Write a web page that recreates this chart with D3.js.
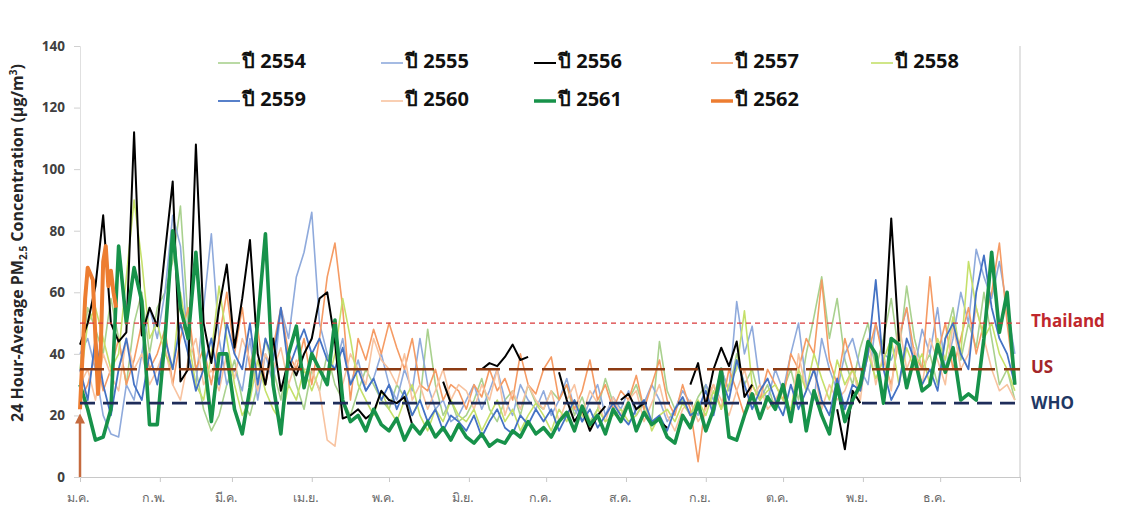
<!DOCTYPE html>
<html>
<head>
<meta charset="utf-8">
<script src="https://cdn.jsdelivr.net/npm/d3@7"></script>
<style>
  body { margin: 0; background: #fff; }
  svg { display: block; }
</style>
</head>
<body>
<svg id="chart" width="1132" height="511"></svg>
<script>
// ---- Data -------------------------------------------------------------
const monthLabels = ["ม.ค.", "ก.พ.", "มี.ค.", "เม.ย.", "พ.ค.", "มิ.ย.", "ก.ค.", "ส.ค.", "ก.ย.", "ต.ค.", "พ.ย.", "ธ.ค."];
const monthStartDays = [0, 31, 59, 90, 120, 151, 181, 212, 243, 273, 304, 334, 365];
const yTicks = [0, 20, 40, 60, 80, 100, 120, 140];

// readings every third day of the year (day 0, 3, 6, ... 363)
const sampleDays = d3.range(0, 365, 3);

const y2554 = [35, 55, 48, 40, 58, 45, 30, 50, 60, 40,
  55, 60, 70, 88, 50, 35, 22, 15, 20, 30,
  38, 25, 20, 30, 45, 35, 25, 40, 30, 22,
  35, 28, 40, 30, 25, 20, 28, 35, 30, 25,
  22, 30, 26, 20, 25, 48, 30, 20, 25, 18,
  20, 25, 32, 22, 18, 25, 28, 20, 30, 24,
  22, 28, 25, 30, 20, 26, 18, 22, 32, 24,
  20, 25, 30, 22, 18, 44, 28, 22, 25, 20,
  26, 30, 22, 35, 28, 40, 30, 35, 25, 30,
  22, 28, 35, 25, 40, 52, 65, 45, 58, 38,
  30, 42, 50, 35, 45, 58, 40, 62, 45, 35,
  40, 30, 45, 55, 38, 50, 42, 60, 45, 30,
  35, 25];

const y2555 = [40, 45, 35, 20, 14, 13, 30, 25, 40, 55,
  45, 60, 85, 75, 40, 30, 55, 79, 45, 30,
  35, 28, 45, 25, 40, 30, 55, 45, 65, 73,
  86, 50, 40, 35, 45, 30, 38, 28, 32, 40,
  30, 25, 35, 28, 45, 30, 22, 25, 18, 20,
  25, 30, 22, 28, 35, 25, 20, 30, 25, 22,
  28, 20, 25, 32, 22, 18, 25, 30, 20, 26,
  22, 28, 20, 24, 30, 25, 18, 22, 28, 24,
  20, 30, 25, 35, 28, 57, 40, 49, 30, 25,
  35, 28, 40, 50, 30, 25, 45, 35, 28, 40,
  45, 35, 30, 50, 40, 38, 45, 55, 35, 48,
  40, 55, 35, 45, 60, 50, 74, 65, 58, 70,
  55, 40];

// null marks days without a reading
const y2556 = [43, 50, 62, 85, 50, 44, 47, 112, 46, 55,
  49, 73, 96, 31, 35, 108, 50, 37, 55, 69,
  42, 58, 77, 40, 30, 45, 28, 38, 33, 40,
  45, 58, 60, 44, 19, 20, 22, 19, 21, 28,
  25, 24, 26, 17, null, null, null, 31, 24, null,
  null, null, 35, 37, 36, 39, 43, 38, 39, null,
  null, null, 34, 25, 18, 22, 15, 20, 23, null,
  25, 27, 22, 24, null, 18, 16, null, null, 30,
  37, 23, 35, 42, 36, 44, 26, 30, null, null,
  32, null, null, null, null, null, null, null, 22, 9,
  28, 24, null, null, 40, 84, 44, null, null, null,
  null, null, null, null, null, null, null, null, null, null,
  null, null];

const y2557 = [25, 30, 40, 28, 35, 45, 30, 38, 50, 35,
  40, 48, 30, 45, 55, 35, 42, 30, 45, 60,
  40, 55, 35, 48, 30, 42, 55, 40, 35, 45,
  30, 45, 65, 76, 55, 25, 45, 38, 48, 40,
  50, 42, 35, 45, 30, 28, 35, 25, 30, 28,
  22, 30, 26, 35, 28, 32, 25, 40, 30, 27,
  35, 39, 25, 30, 22, 28, 38, 25, 30, 22,
  28, 25, 33, 22, 30, 38, 25, 20, 30, 22,
  5, 25, 30, 22, 35, 28, 20, 30, 25, 35,
  30, 25, 40, 35, 45, 40, 64, 38, 30, 45,
  35, 28, 40, 50, 38, 30, 45, 55, 40, 35,
  65, 40, 50, 35, 45, 55, 40, 50, 60, 76,
  50, 30];

const y2558 = [30, 50, 55, 45, 35, 40, 65, 90, 70, 45,
  50, 40, 35, 60, 45, 30, 25, 40, 62, 45,
  30, 20, 25, 38, 28, 22, 18, 30, 25, 35,
  28, 35, 30, 40, 58, 45, 30, 25, 20, 28,
  22, 18, 25, 30, 20, 15, 22, 18, 25, 20,
  18, 22, 15, 20, 25, 18, 22, 15, 20, 24,
  20, 15, 22, 18, 25, 20, 16, 22, 18, 20,
  22, 18, 20, 25, 15, 20, 22, 18, 24, 20,
  25, 20, 28, 22, 30, 35, 54, 30, 25, 28,
  30, 25, 22, 35, 28, 40, 32, 25, 38, 30,
  35, 28, 40, 32, 38, 45, 30, 42, 35, 40,
  30, 45, 38, 52, 40, 70, 55, 45, 50, 40,
  35, 28];

const y2559 = [35, 25, 45, 30, 20, 35, 45, 30, 25, 40,
  30, 45, 35, 50, 40, 28, 35, 45, 30, 50,
  40, 35, 50, 30, 45, 38, 55, 35, 42, 48,
  40, 45, 38, 35, 42, 30, 35, 28, 32, 25,
  30, 22, 28, 20, 25, 18, 22, 15, 20, 18,
  15, 20, 13, 18, 22, 16, 14, 20, 17, 22,
  18, 22, 15, 20, 25, 18, 22, 16, 20, 24,
  20, 17, 22, 25, 18, 20, 15, 22, 26, 20,
  22, 28, 20, 32, 25, 38, 30, 22, 28, 32,
  25, 20, 30, 22, 28, 35, 25, 20, 32, 22,
  30, 28, 40, 64, 35, 25, 30, 45, 38, 30,
  35, 28, 45, 50, 40, 35, 60, 72, 55, 45,
  40, 30];

const y2560 = [30, 35, 25, 40, 33, 28, 45, 35, 40, 30,
  35, 42, 30, 25, 38, 45, 30, 35, 28, 40,
  32, 45, 38, 28, 40, 35, 42, 30, 38, 35,
  35, 28, 12, 10, 30, 40, 35, 30, 45, 38,
  35, 30, 40, 25, 30, 22, 28, 35, 25, 30,
  28, 22, 30, 25, 35, 20, 28, 22, 30, 25,
  22, 28, 18, 25, 30, 20, 28, 24, 18, 26,
  20, 25, 28, 18, 24, 30, 20, 15, 22, 25,
  18, 22, 30, 25, 20, 28, 35, 25, 30, 22,
  25, 30, 20, 40, 28, 35, 22, 30, 25, 28,
  35, 25, 45, 30, 40, 28, 50, 35, 42, 30,
  45, 38, 30, 50, 35, 40, 55, 45, 35, 28,
  30, 25];

const y2561 = [30, 22, 12, 13, 22, 75, 50, 68, 57, 17,
  17, 45, 80, 55, 45, 73, 40, 18, 40, 40,
  22, 14, 29, 50, 79, 30, 14, 40, 49, 29,
  40, 35, 30, 51, 25, 18, 20, 15, 22, 17,
  15, 19, 12, 17, 14, 18, 13, 16, 12, 17,
  13, 11, 14, 10, 12, 11, 15, 13, 18, 14,
  16, 13, 18, 21, 15, 23, 17, 20, 14, 22,
  18, 24, 15, 21, 17, 19, 13, 11, 20, 16,
  24, 15, 22, 35, 13, 12, 20, 27, 19, 26,
  22, 30, 18, 33, 15, 28, 20, 14, 30, 18,
  25, 30, 44, 40, 24, 45, 43, 29, 39, 28,
  30, 43, 34, 42, 25, 27, 25, 45, 73, 47,
  60, 30];

// daily readings for the first days of 2562
const days2562 = [0, 1, 2, 3, 4, 5, 6, 7, 8, 9, 10, 11, 12, 13, 14];
const y2562 = [22, 40, 58, 68, 66, 64, 45, 27, 40, 70, 75, 62, 67, 60, 55];

const seriesNames = ["ปี 2554", "ปี 2555", "ปี 2556", "ปี 2557", "ปี 2558", "ปี 2559", "ปี 2560", "ปี 2561", "ปี 2562"];
const seriesColors = ["#A9D18E", "#8FAADC", "#000000", "#F59B64", "#C5E06A", "#4472C4", "#F8C3A0", "#17924A", "#ED7D31"];
const seriesWidths = [1.6, 1.6, 2, 1.6, 1.6, 1.8, 1.6, 3.6, 4];

const standardNames = ["Thailand", "US", "WHO"];
const standardValues = [50, 35, 24];
const standardColors = ["#D9383A", "#8B3A12", "#1F2D5A"];
const standardLabelColors = ["#C0272D", "#A3262A", "#1F3864"];
const standardWidths = [1.3, 2.6, 2.6];
const standardDashes = ["5,4", "24,9", "15,8"];

// ---- Chart ------------------------------------------------------------
const svg = d3.select("#chart");
const x = d3.scaleLinear().domain([0, 365]).range([80, 1020]);
const y = d3.scaleLinear().domain([0, 140]).range([477, 46]);

// axes
const xAxis = svg.append("g").attr("transform", `translate(0,${y(0)})`)
  .call(d3.axisBottom(x).tickValues(monthStartDays).tickSize(5).tickFormat(""));
xAxis.select(".domain").attr("stroke", "#C8C8C8");
xAxis.selectAll(".tick line").attr("stroke", "#C8C8C8");

const yAxis = svg.append("g").attr("transform", `translate(${x(0)},0)`)
  .call(d3.axisLeft(y).tickValues(yTicks).tickSize(6).tickPadding(9));
yAxis.select(".domain").attr("stroke", "#E0E0E0");
yAxis.selectAll(".tick line").attr("stroke", "#D0D0D0");
yAxis.selectAll(".tick text")
  .attr("font-family", "'Open Sans', 'Liberation Sans', sans-serif")
  .attr("font-size", 13.5).attr("font-weight", "bold").attr("fill", "#404040");

// right frame line
svg.append("line")
  .attr("x1", x(365)).attr("x2", x(365)).attr("y1", y(140)).attr("y2", y(0))
  .attr("stroke", "#D0D0D0").attr("stroke-width", 1.2);

// month labels
svg.append("g").selectAll("text")
  .data(monthLabels)
  .join("text")
  .attr("x", (d, i) => x(monthStartDays[i]) - (i === 0 ? 2 : 6))
  .attr("y", 502)
  .attr("text-anchor", "middle")
  .attr("font-family", "'Noto Sans', 'DejaVu Sans', sans-serif")
  .attr("font-size", 12.5).attr("fill", "#6A6A6A")
  .text(d => d);

// y-axis title
const yTitle = svg.append("text")
  .attr("transform", "translate(23,243) rotate(-90)")
  .attr("text-anchor", "middle")
  .attr("font-family", "'Open Sans', 'Liberation Sans', sans-serif")
  .attr("font-size", 16).attr("font-weight", "bold").attr("fill", "#262626");
yTitle.append("tspan").text("24 Hour-Average PM");
yTitle.append("tspan").attr("font-size", 10).attr("dy", 4).text("2.5");
yTitle.append("tspan").attr("dy", -4).text(" Concentration (µg/m");
yTitle.append("tspan").attr("font-size", 10).attr("dy", -6).text("3");
yTitle.append("tspan").attr("dy", 6).text(")");

// series lines
const line = d3.line()
  .defined(d => d.v !== null)
  .x(d => x(d.day))
  .y(d => y(d.v));

const seriesValues = [y2554, y2555, y2556, y2557, y2558, y2559, y2560, y2561, y2562];
const drawOrder = [0, 1, 3, 6, 4, 5, 2, 7, 8];
const plot = svg.append("g");
drawOrder.forEach(k => {
  const dayList = k === 8 ? days2562 : sampleDays;
  const pts = seriesValues[k].map((v, i) => ({ day: dayList[i], v: v }));
  plot.append("path")
    .datum(pts)
    .attr("fill", "none")
    .attr("stroke", seriesColors[k])
    .attr("stroke-width", seriesWidths[k])
    .attr("stroke-linejoin", "round")
    .attr("d", line);
});

// arrow at the start of the year
svg.append("defs").append("marker")
  .attr("id", "arrowHead")
  .attr("viewBox", "0 0 10 10").attr("refX", 5).attr("refY", 5)
  .attr("markerWidth", 4).attr("markerHeight", 4).attr("orient", "auto")
  .append("path").attr("d", "M0,0 L10,5 L0,10 Z").attr("fill", "#C56A3E");
svg.append("line")
  .attr("x1", x(0)).attr("x2", x(0))
  .attr("y1", y(0)).attr("y2", y(19))
  .attr("stroke", "#C56A3E").attr("stroke-width", 2.5)
  .attr("marker-end", "url(#arrowHead)");

// standard lines and labels
standardValues.forEach((v, i) => {
  svg.append("line")
    .attr("x1", x(0)).attr("x2", x(365))
    .attr("y1", y(v)).attr("y2", y(v))
    .attr("stroke", standardColors[i])
    .attr("stroke-width", standardWidths[i])
    .attr("stroke-dasharray", standardDashes[i]);
  svg.append("text")
    .attr("x", 1031).attr("y", y(v) + (i === 2 ? 1 : -1))
    .attr("dominant-baseline", "middle")
    .attr("font-family", "'Open Sans', 'Liberation Sans', sans-serif")
    .attr("font-size", 17).attr("font-weight", "bold")
    .attr("fill", standardLabelColors[i])
    .text(standardNames[i]);
});

// legend
const legendTextX = [242, 405, 558, 735, 895];
const legendRowY = [63, 101];
const legend = svg.append("g");
seriesNames.forEach((name, k) => {
  const col = k % 5, row = Math.floor(k / 5);
  const tx = legendTextX[col], ty = legendRowY[row];
  legend.append("line")
    .attr("x1", tx - 24).attr("x2", tx - 2)
    .attr("y1", ty).attr("y2", ty)
    .attr("stroke", seriesColors[k])
    .attr("stroke-width", Math.min(seriesWidths[k], 3.5));
  legend.append("text")
    .attr("x", tx).attr("y", ty)
    .attr("dominant-baseline", "middle")
    .attr("font-family", "'Noto Sans', 'Open Sans', 'DejaVu Sans', sans-serif")
    .attr("font-size", 20).attr("font-weight", "bold").attr("fill", "#111")
    .text(name);
});
</script>
</body>
</html>
